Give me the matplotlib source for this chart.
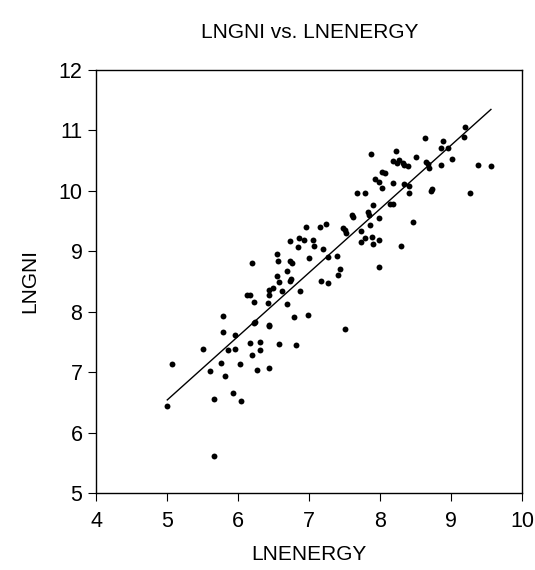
import numpy as np
import matplotlib.pyplot as plt

plt.rcParams['font.family'] = ['Liberation Sans', 'DejaVu Sans']

# LNENERGY (x) y LNGNI (y)
lnenergy = np.array([
    5.00, 5.07, 5.66, 5.51, 5.60, 5.66, 5.76, 5.82, 5.79, 5.79,
    5.86, 5.95, 5.96, 5.93, 6.04, 6.02, 6.16, 6.20, 6.27, 6.30,
    6.31, 6.44, 6.22, 6.23, 6.43, 6.43, 6.58, 6.82, 6.78, 6.98,
    6.69, 6.22, 6.12, 6.16, 6.20, 6.42, 6.43, 6.44, 6.49, 6.62,
    6.57, 6.55, 6.73, 6.75, 6.69, 6.87, 6.54, 6.56, 6.73, 6.76,
    6.73, 6.84, 6.86, 6.93, 6.96, 7.00, 7.06, 7.07, 7.15, 7.23,
    7.20, 7.26, 7.16, 7.26, 7.39, 7.44, 7.41, 7.51, 7.48, 7.50,
    7.52, 7.60, 7.61, 7.67, 7.78, 7.73, 7.73, 7.79, 7.83, 7.84,
    7.86, 7.90, 7.88, 7.90, 7.98, 7.98, 7.98, 7.87, 7.92, 7.99,
    8.02, 8.03, 8.07, 8.14, 8.18, 8.18, 8.29, 8.46, 8.40, 8.34,
    8.41, 8.18, 8.22, 8.24, 8.26, 8.32, 8.34, 8.39, 8.50, 8.63,
    8.65, 8.67, 8.69, 8.71, 8.73, 8.85, 8.86, 8.89, 8.95, 9.01,
    9.18, 9.20, 9.27, 9.38, 9.56,
])
lngni = np.array([
    6.44, 7.13, 5.61, 7.38, 7.02, 6.56, 7.15, 6.93, 7.93, 7.67,
    7.36, 7.38, 7.62, 6.65, 6.52, 7.13, 7.48, 7.29, 7.03, 7.50,
    7.36, 7.06, 7.81, 7.82, 7.78, 7.76, 7.46, 7.45, 7.91, 7.95,
    8.12, 8.15, 8.28, 8.27, 8.80, 8.14, 8.27, 8.36, 8.39, 8.34,
    8.49, 8.59, 8.51, 8.53, 8.67, 8.34, 8.95, 8.84, 8.83, 8.81,
    9.16, 9.06, 9.22, 9.19, 9.40, 8.89, 9.19, 9.08, 9.40, 9.45,
    9.04, 8.90, 8.50, 8.47, 8.91, 8.71, 8.61, 7.71, 9.38, 9.35,
    9.29, 9.59, 9.57, 9.96, 9.96, 9.33, 9.15, 9.21, 9.64, 9.60,
    9.43, 9.76, 9.24, 9.12, 9.19, 9.54, 8.73, 10.61, 10.19, 10.14,
    10.04, 10.30, 10.29, 9.78, 9.78, 10.12, 9.08, 9.48, 9.96, 10.10,
    10.07, 10.49, 10.66, 10.46, 10.51, 10.45, 10.43, 10.40, 10.55, 10.87,
    10.48, 10.44, 10.38, 10.00, 10.03, 10.70, 10.42, 10.82, 10.71, 10.52,
    10.88, 11.05, 9.96, 10.43, 10.41,
])

# Recta de regresion
b, a = np.polyfit(lnenergy, lngni, 1)
xs = np.array([lnenergy.min(), lnenergy.max()])

fig = plt.figure(figsize=(5.35, 5.7), dpi=100)
ax = fig.add_axes([0.18, 0.135, 0.796, 0.743])
ax.scatter(lnenergy, lngni, s=18, color='black', linewidths=0, zorder=3)
ax.plot(xs, a + b * xs, color='black', linewidth=1.0)

ax.set_xlim(4, 10)
ax.set_ylim(5, 12)
ax.set_xticks(range(4, 11))
ax.set_yticks(range(5, 13))
ax.tick_params(direction='out', length=6, width=0.8, labelsize=15.5,
               top=False, right=False)
ax.tick_params(axis='x', pad=7)
ax.tick_params(axis='y', pad=4)
for s in ax.spines.values():
    s.set_linewidth(1.0)

ax.set_title('LNGNI vs. LNENERGY', fontsize=15, pad=23)
ax.set_xlabel('LNENERGY', fontsize=15, labelpad=9)
ax.set_ylabel('LNGNI', fontsize=15, labelpad=14)

fig.savefig('out.png', dpi=100)
